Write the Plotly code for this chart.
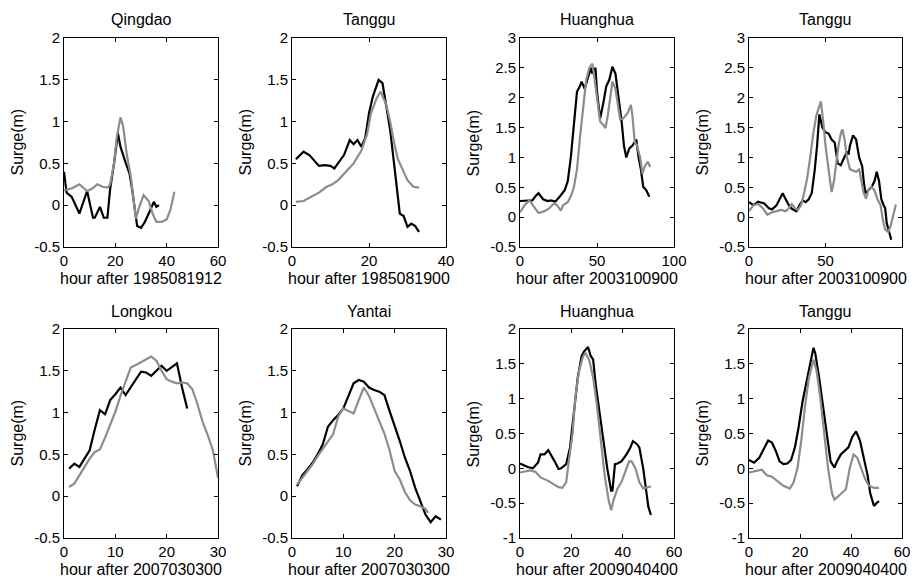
import plotly.graph_objects as go

W, H = 914, 582

titles = ["Qingdao", "Tanggu", "Huanghua", "Tanggu", "Longkou", "Yantai", "Huanghua", "Tanggu"]
xlabels = ["hour after 1985081912", "hour after 1985081900", "hour after 2003100900", "hour after 2003100900",
           "hour after 2007030300", "hour after 2007030300", "hour after 2009040400", "hour after 2009040400"]

# Panel 1: Qingdao 1985
p1_obs_x = [0, 1, 3, 6, 9, 11.3, 12, 14, 15.5, 16.9, 18, 19.5, 21, 22, 24, 25.5, 26.5, 27.5, 28.5, 30, 31.5, 33, 35, 36, 37]
p1_obs_y = [0.40, 0.15, 0.10, -0.10, 0.17, -0.15, -0.15, -0.02, -0.15, -0.15, 0.20, 0.50, 0.86, 0.70, 0.51, 0.38, 0.20, -0.05, -0.25, -0.27, -0.20, -0.10, 0.04, -0.02, 0.0]
p1_sim_x = [0, 3, 6, 9, 11, 13, 15, 17, 18, 19.5, 20.5, 22, 23, 24.5, 26, 27, 28, 29, 31, 33, 34.5, 36, 38, 40, 41.5, 43]
p1_sim_y = [0.18, 0.20, 0.25, 0.17, 0.20, 0.25, 0.22, 0.21, 0.25, 0.50, 0.80, 1.05, 0.95, 0.60, 0.35, 0.10, -0.16, -0.05, 0.12, 0.05, -0.10, -0.20, -0.20, -0.17, -0.05, 0.16]

# Panel 2: Tanggu 1985
p2_obs_x = [1, 3, 4.5, 5.5, 7, 8.5, 10, 11, 12, 13.5, 15, 16, 17, 18, 19, 20, 21, 22.5, 23.5, 24.5, 25.5, 26.5, 27.5, 28, 29, 30, 31, 32, 33]
p2_obs_y = [0.55, 0.64, 0.60, 0.55, 0.47, 0.48, 0.47, 0.44, 0.50, 0.60, 0.78, 0.73, 0.78, 0.70, 0.80, 1.10, 1.30, 1.50, 1.46, 1.20, 0.90, 0.50, 0.10, -0.10, -0.13, -0.26, -0.22, -0.25, -0.32]
p2_sim_x = [1, 3, 5, 7, 9, 10.5, 12, 14, 16, 18, 19.5, 20.5, 22, 23, 24.5, 25.5, 26.5, 27.5, 29, 30, 31.5, 33]
p2_sim_y = [0.04, 0.05, 0.10, 0.15, 0.22, 0.25, 0.30, 0.40, 0.50, 0.65, 0.85, 1.10, 1.28, 1.36, 1.20, 1.00, 0.75, 0.55, 0.40, 0.30, 0.22, 0.21]

# Panel 3: Huanghua 2003
p3_obs_x = [0, 4, 8, 10, 12, 15, 18, 20, 23, 26, 29, 31, 33, 35, 37, 39, 40, 42, 44, 46, 47, 49, 50, 52, 54, 56, 58, 60, 62, 64, 66, 67.5, 69, 71, 73, 75.5, 77, 78.5, 80, 82, 84]
p3_obs_y = [0.27, 0.28, 0.28, 0.35, 0.40, 0.30, 0.27, 0.28, 0.26, 0.35, 0.45, 0.60, 1.00, 1.55, 2.10, 2.20, 2.27, 2.15, 2.35, 2.50, 2.40, 2.50, 2.10, 1.65, 1.90, 2.19, 2.30, 2.52, 2.40, 2.00, 1.60, 1.20, 1.00, 1.15, 1.20, 1.30, 1.00, 0.80, 0.51, 0.45, 0.34]
p3_sim_x = [0, 3, 6, 9, 12, 16, 19, 22, 24, 26.5, 28, 31, 33, 35, 37, 39, 41, 43, 45, 47, 48.5, 50, 52, 54, 55.5, 57, 58.5, 60, 62, 63.5, 65, 67, 70, 72, 73, 74.5, 76, 78, 79.5, 81, 83, 84.5]
p3_sim_y = [0.08, 0.20, 0.28, 0.18, 0.07, 0.10, 0.15, 0.23, 0.20, 0.11, 0.20, 0.25, 0.35, 0.50, 0.80, 1.35, 1.80, 2.30, 2.50, 2.57, 2.30, 2.00, 1.60, 1.55, 1.49, 1.70, 2.00, 2.27, 2.15, 1.90, 1.64, 1.65, 1.75, 1.88, 1.70, 1.26, 1.20, 1.00, 0.73, 0.85, 0.93, 0.84]

# Panel 4: Tanggu 2003
p4_obs_x = [0, 3, 6, 10, 13, 15, 18, 20, 22, 24, 26, 28, 31, 33, 35, 37, 39, 41, 43, 44.5, 46, 48, 50, 52, 54, 56, 58, 60, 62, 64, 65, 66, 68, 70, 72, 74, 75, 76, 78, 80, 82, 83.5, 85, 86.5, 88, 89, 90, 92, 93]
p4_obs_y = [0.25, 0.20, 0.26, 0.23, 0.15, 0.13, 0.20, 0.30, 0.40, 0.30, 0.20, 0.14, 0.10, 0.20, 0.28, 0.25, 0.30, 0.40, 0.80, 1.20, 1.72, 1.50, 1.42, 1.40, 1.30, 1.25, 0.90, 0.87, 1.00, 1.10, 1.05, 1.20, 1.37, 1.30, 1.00, 0.85, 0.60, 0.40, 0.45, 0.50, 0.60, 0.76, 0.60, 0.30, 0.20, 0.15, -0.10, -0.30, -0.38]
p4_sim_x = [0, 3, 6, 9, 12, 15, 18, 21, 24, 26, 28, 30, 32, 34, 36, 38, 40, 42, 44, 46, 47, 48.5, 50, 52, 54, 55.5, 57, 58.5, 60, 61, 62.5, 64, 66, 68, 70, 72, 73.5, 75, 76.5, 78, 80, 82, 84, 86, 87.5, 89, 91, 92.5, 94, 96]
p4_sim_y = [0.10, 0.20, 0.22, 0.15, 0.04, 0.08, 0.10, 0.12, 0.10, 0.15, 0.22, 0.15, 0.12, 0.20, 0.40, 0.65, 1.00, 1.40, 1.70, 1.88, 1.94, 1.60, 1.20, 0.80, 0.42, 0.60, 0.90, 1.20, 1.40, 1.47, 1.30, 1.00, 0.80, 0.78, 0.76, 0.80, 0.60, 0.40, 0.31, 0.45, 0.51, 0.45, 0.30, 0.20, -0.05, -0.21, -0.25, -0.15, 0.00, 0.21]

# Panel 5: Longkou 2007
p5_obs_x = [1, 2, 3, 4, 5, 6, 7, 8, 9, 10, 11, 12, 13, 14, 15, 16, 17, 18, 19, 20, 21, 22, 23, 24]
p5_obs_y = [0.33, 0.39, 0.35, 0.45, 0.55, 0.80, 1.03, 0.98, 1.15, 1.22, 1.30, 1.21, 1.30, 1.40, 1.49, 1.48, 1.44, 1.50, 1.56, 1.50, 1.55, 1.59, 1.30, 1.05]
p5_sim_x = [1, 2, 3, 4, 5, 6, 7, 8, 9, 10, 11, 12, 13, 14, 15, 16, 17, 18, 19, 20, 21, 22, 23, 24, 25, 26, 27, 28, 29, 30]
p5_sim_y = [0.11, 0.15, 0.25, 0.35, 0.45, 0.53, 0.56, 0.70, 0.85, 1.01, 1.20, 1.36, 1.54, 1.57, 1.60, 1.64, 1.67, 1.62, 1.50, 1.40, 1.37, 1.35, 1.36, 1.35, 1.28, 1.10, 0.89, 0.73, 0.55, 0.22]

# Panel 6: Yantai 2007
p6_obs_x = [1, 2, 3, 4, 5, 6, 7, 8, 9, 10, 11, 12, 13, 14, 15, 16, 17, 18, 19, 20, 21, 22, 23, 24, 25, 26, 27, 28, 29]
p6_obs_y = [0.12, 0.25, 0.32, 0.40, 0.50, 0.62, 0.83, 0.91, 0.97, 1.05, 1.20, 1.35, 1.39, 1.37, 1.30, 1.27, 1.25, 1.21, 1.02, 0.85, 0.66, 0.46, 0.30, 0.10, -0.06, -0.22, -0.31, -0.24, -0.28]
p6_sim_x = [1, 2, 3, 4, 5, 6, 7, 8, 9, 10, 11, 12, 13, 14, 15, 16, 17, 18, 19, 20, 21, 22, 23, 24, 25, 26, 26.5]
p6_sim_y = [0.14, 0.22, 0.30, 0.38, 0.48, 0.57, 0.65, 0.74, 0.95, 1.05, 1.02, 0.99, 1.15, 1.30, 1.20, 1.05, 0.90, 0.75, 0.55, 0.30, 0.20, 0.05, -0.05, -0.10, -0.12, -0.15, -0.20]

# Panel 7: Huanghua 2009
p7_obs_x = [0, 1, 3, 5, 7, 8, 9.5, 11, 12, 13.5, 15, 16, 18, 19.5, 21, 22.5, 24, 25, 26.5, 27.5, 28.5, 29.5, 31, 32.5, 34, 35.5, 36, 37, 38, 39.5, 40.5, 41.5, 43, 44, 45.5, 46.5, 48, 49, 50, 51]
p7_obs_y = [0.07, 0.05, 0.02, 0.00, 0.08, 0.20, 0.20, 0.26, 0.20, 0.10, -0.01, 0.00, 0.06, 0.30, 0.80, 1.30, 1.61, 1.68, 1.74, 1.62, 1.56, 1.20, 0.80, 0.40, 0.00, -0.32, -0.32, 0.06, 0.07, 0.10, 0.15, 0.20, 0.30, 0.39, 0.35, 0.30, 0.00, -0.30, -0.55, -0.67]
p7_sim_x = [0, 2, 4, 6, 8, 11, 13, 15, 16.5, 18, 19, 20.5, 21.5, 23, 24.5, 25.5, 27, 28.5, 30, 31.5, 33, 34.5, 35.5, 36.5, 38, 39.5, 41, 42.5, 43.5, 45, 46.5, 48, 50, 51]
p7_sim_y = [-0.06, -0.05, -0.03, -0.05, -0.13, -0.18, -0.22, -0.27, -0.28, -0.20, 0.10, 0.50, 1.00, 1.40, 1.60, 1.66, 1.55, 1.30, 0.90, 0.40, -0.10, -0.45, -0.60, -0.45, -0.29, -0.20, -0.05, 0.10, 0.10, 0.00, -0.20, -0.29, -0.27, -0.26]

# Panel 8: Tanggu 2009
p8_obs_x = [0, 2, 4, 6, 7.5, 9, 10.5, 12, 13.5, 15, 16.5, 18, 19.5, 21, 22.5, 24, 25.3, 26, 27.5, 29, 30.5, 32, 33.5, 34.5, 36, 37.5, 39, 40.5, 42, 43.5, 45, 46.5, 47.5, 49, 50, 51]
p8_obs_y = [0.12, 0.08, 0.15, 0.30, 0.40, 0.37, 0.25, 0.10, 0.06, 0.07, 0.12, 0.30, 0.60, 0.96, 1.25, 1.50, 1.73, 1.65, 1.30, 0.90, 0.50, 0.10, 0.01, 0.10, 0.20, 0.25, 0.30, 0.45, 0.53, 0.40, 0.15, -0.10, -0.35, -0.54, -0.50, -0.47]
p8_sim_x = [0, 3, 5, 7, 9, 11, 13.5, 16, 17.5, 19, 20.5, 22, 23.5, 25.3, 26.5, 28, 29.5, 31, 32.5, 33.5, 35, 36.5, 38, 39.5, 41, 42.5, 44, 45.5, 47, 49, 51]
p8_sim_y = [-0.06, -0.03, -0.02, -0.10, -0.12, -0.18, -0.25, -0.29, -0.20, 0.00, 0.40, 0.90, 1.30, 1.56, 1.40, 1.00, 0.50, 0.00, -0.35, -0.45, -0.40, -0.35, -0.30, 0.00, 0.20, 0.15, 0.00, -0.15, -0.25, -0.28, -0.28]

obs = [(p1_obs_x, p1_obs_y), (p2_obs_x, p2_obs_y), (p3_obs_x, p3_obs_y), (p4_obs_x, p4_obs_y),
       (p5_obs_x, p5_obs_y), (p6_obs_x, p6_obs_y), (p7_obs_x, p7_obs_y), (p8_obs_x, p8_obs_y)]
sim = [(p1_sim_x, p1_sim_y), (p2_sim_x, p2_sim_y), (p3_sim_x, p3_sim_y), (p4_sim_x, p4_sim_y),
       (p5_sim_x, p5_sim_y), (p6_sim_x, p6_sim_y), (p7_sim_x, p7_sim_y), (p8_sim_x, p8_sim_y)]

x_ranges = [[0, 60], [0, 40], [0, 100], [0, 100], [0, 30], [0, 30], [0, 60], [0, 60]]
x_ticks = [[0, 20, 40, 60], [0, 20, 40], [0, 50, 100], [0, 50, 100], [0, 10, 20, 30], [0, 10, 20, 30], [0, 20, 40, 60], [0, 20, 40, 60]]
y_ranges = [[-0.5, 2], [-0.5, 2], [-0.5, 3], [-0.5, 3], [-0.5, 2], [-0.5, 2], [-1, 2], [-1, 2]]
y_ticks = [[-0.5, 0, 0.5, 1, 1.5, 2], [-0.5, 0, 0.5, 1, 1.5, 2],
           [-0.5, 0, 0.5, 1, 1.5, 2, 2.5, 3], [-0.5, 0, 0.5, 1, 1.5, 2, 2.5, 3],
           [-0.5, 0, 0.5, 1, 1.5, 2], [-0.5, 0, 0.5, 1, 1.5, 2],
           [-1, -0.5, 0, 0.5, 1, 1.5, 2], [-1, -0.5, 0, 0.5, 1, 1.5, 2]]


def fmt(v):
    return "%g" % v


# pixel geometry of axes boxes
col_left = [64, 292, 520, 749]
col_right = [218, 446, 674, 902]
row_top = [38, 329]
row_bot = [247, 538]

FONT = "Liberation Sans, Arial, Helvetica, sans-serif"
fig = go.Figure()
annotations = []
for i in range(8):
    r, c = divmod(i, 4)
    n = i + 1
    xa = "x" if n == 1 else "x%d" % n
    ya = "y" if n == 1 else "y%d" % n
    fig.add_trace(go.Scatter(x=obs[i][0], y=obs[i][1], mode="lines", xaxis=xa, yaxis=ya,
                             line=dict(color="#000000", width=2.2), showlegend=False))
    fig.add_trace(go.Scatter(x=sim[i][0], y=sim[i][1], mode="lines", xaxis=xa, yaxis=ya,
                             line=dict(color="#8c8c8c", width=2.2), showlegend=False))
    dx = [col_left[c] / W, col_right[c] / W]
    dy = [1 - row_bot[r] / H, 1 - row_top[r] / H]
    common = dict(showline=True, linecolor="black", linewidth=1, mirror="allticks", ticks="inside",
                  ticklen=4, tickcolor="black", showgrid=False, zeroline=False, automargin=False,
                  tickfont=dict(family=FONT, size=15, color="black"))
    fig.layout["xaxis" + ("" if n == 1 else str(n))] = dict(
        domain=dx, range=x_ranges[i], anchor=ya, tickvals=x_ticks[i],
        ticktext=[fmt(v) for v in x_ticks[i]], **common)
    fig.layout["yaxis" + ("" if n == 1 else str(n))] = dict(
        domain=dy, range=y_ranges[i], anchor=xa, tickvals=y_ticks[i],
        ticktext=[fmt(v) for v in y_ticks[i]], **common)
    cx = (col_left[c] + col_right[c]) / 2 / W
    annotations.append(dict(text=titles[i], x=cx, y=1 - (row_top[r] - 18) / H, xref="paper", yref="paper",
                            xanchor="center", yanchor="middle", showarrow=False,
                            font=dict(family=FONT, size=16, color="black")))
    annotations.append(dict(text=xlabels[i], x=cx, y=1 - (row_bot[r] + 31) / H, xref="paper", yref="paper",
                            xanchor="center", yanchor="middle", showarrow=False,
                            font=dict(family=FONT, size=16, color="black")))
    annotations.append(dict(text="Surge(m)", x=(col_left[c] - 47) / W, y=1 - (row_top[r] + row_bot[r]) / 2 / H,
                            xref="paper", yref="paper", xanchor="center", yanchor="middle", textangle=-90,
                            showarrow=False, font=dict(family=FONT, size=16, color="black")))

fig.update_layout(width=W, height=H, margin=dict(l=0, r=0, t=0, b=0, autoexpand=False),
                  template="none",
                  paper_bgcolor="white", plot_bgcolor="white", annotations=annotations)
fig.write_html("out.html")
